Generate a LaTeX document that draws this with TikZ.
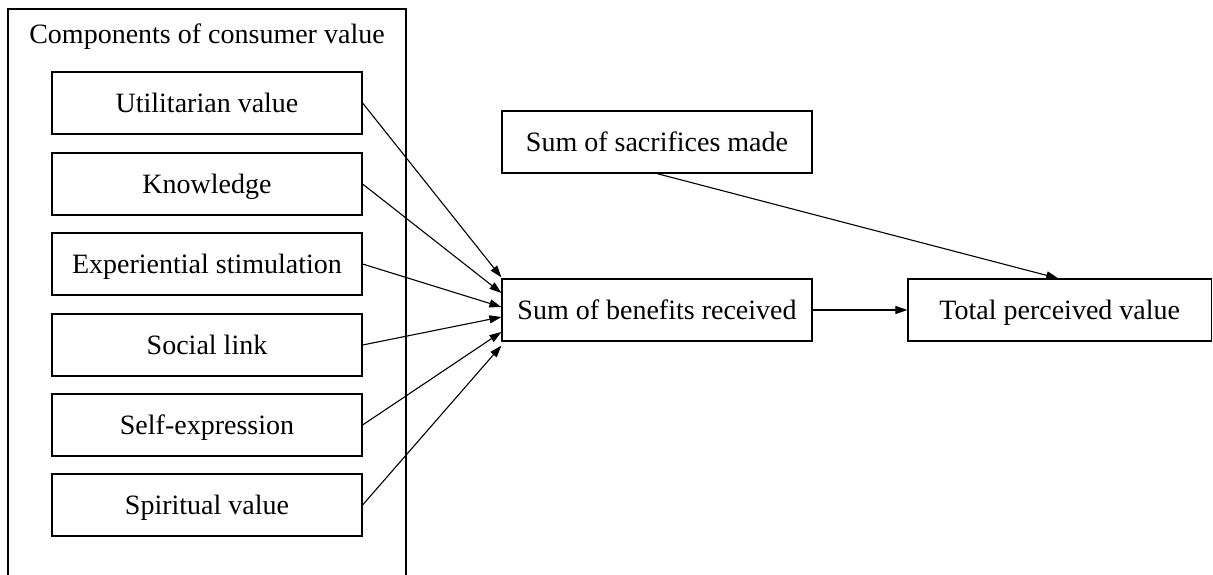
\documentclass[tikz,border=0pt]{standalone}
\usepackage{fontspec}
\setmainfont{Liberation Serif}
\usetikzlibrary{arrows.meta}
\begin{document}
\begin{tikzpicture}[x=1pt,y=-1pt,
  box/.style={draw, line width=1.2pt, inner sep=0pt, minimum width=310pt, minimum height=62pt, text height=18.5pt, text depth=0pt, font=\fontsize{28}{33}\selectfont},
  conn/.style={line width=1.1pt, -{Triangle[length=12pt,width=8pt]}},
  lbl/.style={inner sep=0pt, text height=18.5pt, text depth=0pt, font=\fontsize{28}{33}\selectfont}]
\useasboundingbox (0,0) rectangle (1213,575);
% outer container
\draw[line width=1.2pt] (8,576) -- (8,9) -- (406,9) -- (406,576);
\node[lbl] (title) at (207,34) {Components of consumer value};
% components
\node[box] (util) at (207,103) {Utilitarian value};
\node[box] (know) at (207,184) {Knowledge};
\node[box] (expe) at (207,264) {Experiential stimulation};
\node[box] (soci) at (207,345) {Social link};
\node[box] (self) at (207,425) {Self-expression};
\node[box] (spir) at (207,505) {Spiritual value};
% right side
\node[box] (sacr) at (657,142) {Sum of sacrifices made};
\node[box] (bene) at (657,310) {Sum of benefits received};
\node[box, minimum width=303.5pt] (tot) at (1059.75,310) {Total perceived value};
% connectors
\draw[conn] (util.east) -- ([yshift=1pt]bene.north west);
\draw[conn] (know.east) -- ([yshift=17pt]bene.west);
\draw[conn] (expe.east) -- ([yshift=3pt]bene.west);
\draw[conn] (soci.east) -- ([yshift=-7pt]bene.west);
\draw[conn] (self.east) -- ([yshift=-22pt]bene.west);
\draw[conn] (spir.east) -- ([yshift=-4pt]bene.south west);
\draw[conn] (bene.east) -- (tot.west);
\draw[conn] (sacr.south) -- ([xshift=-1.5pt]tot.north);
\end{tikzpicture}
\end{document}
